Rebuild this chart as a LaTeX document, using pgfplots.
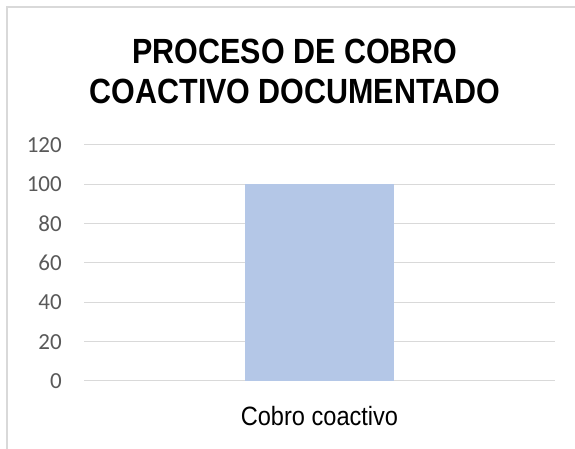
\documentclass[border=0pt]{standalone}
\usepackage{pgfplots}
\pgfplotsset{compat=1.18}
\usepackage{fontspec}
\setmainfont{Liberation Sans}
\newfontfamily\titlefont[FakeStretch=0.87]{Liberation Sans}
\newfontfamily\labelfont[FakeStretch=0.89]{Liberation Sans}
\newfontfamily\tickfont{Carlito}
\definecolor{barblue}{HTML}{B4C7E7}
\definecolor{gridgray}{HTML}{D9D9D9}
\definecolor{ticktext}{HTML}{595959}

\begin{document}
\begin{tikzpicture}
\path[use as bounding box] (0,0) rectangle (575pt,449pt);
% outer chart frame (only top and left edges are visible)
\draw[gridgray,line width=2pt] (7pt,0) -- (7pt,442pt) -- (575pt,442pt);

\begin{axis}[
  at={(84pt,68pt)},
  scale only axis,
  width=471pt, height=236pt,
  xmin=-0.5, xmax=0.5,
  ymin=0, ymax=120,
  ytick={0,20,40,60,80,100,120},
  xtick={0},
  xticklabels={Cobro coactivo},
  axis line style={draw=none},
  major tick length=0pt,
  ymajorgrids,
  major grid style={gridgray,line width=1pt},
  yticklabel style={font=\tickfont\fontsize{23}{23}\selectfont,text=ticktext,
    anchor=east,inner sep=0pt,xshift=-22pt},
  xticklabel style={font=\labelfont\fontsize{26.5}{26.5}\selectfont,text=black,
    anchor=base,inner sep=0pt,yshift=-45pt},
  /pgf/number format/assume math mode=true,
]
\addplot[ybar,bar width=148pt,fill=barblue,draw=none] coordinates {(0,100)};
\end{axis}

\node[anchor=base,font=\titlefont\bfseries\fontsize{35}{35}\selectfont] at (295pt,385.5pt) {PROCESO DE COBRO};
\node[anchor=base,font=\titlefont\bfseries\fontsize{35}{35}\selectfont] at (295pt,345pt) {COACTIVO DOCUMENTADO};
\end{tikzpicture}
\end{document}
